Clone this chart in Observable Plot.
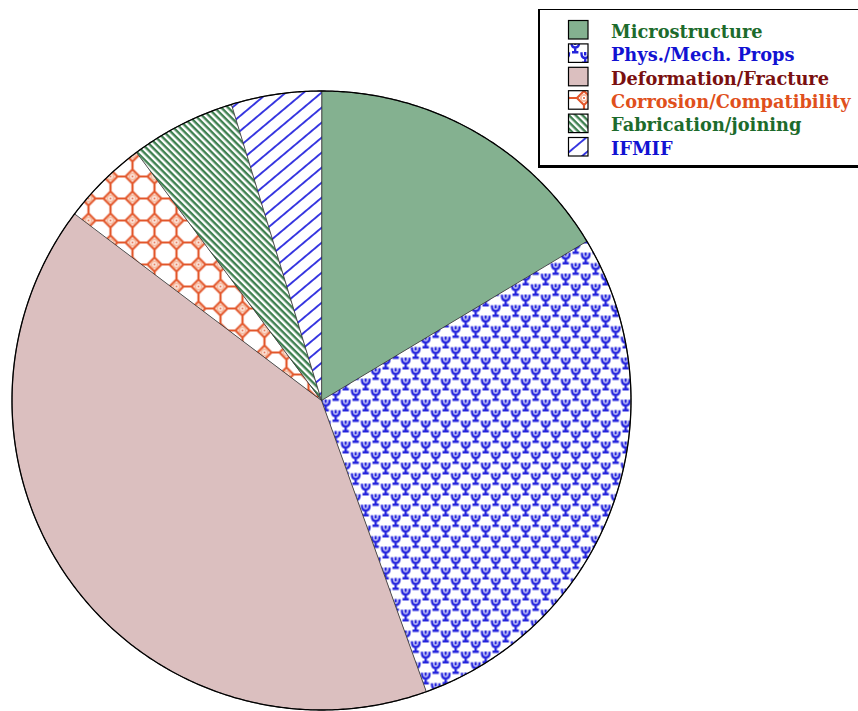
<!DOCTYPE html>
<html><head><meta charset="utf-8">
<script src="https://cdn.jsdelivr.net/npm/d3@7"></script>
<script src="https://cdn.jsdelivr.net/npm/@observablehq/plot@0.6"></script>
<style>
html,body{margin:0;padding:0;background:#fff;overflow:hidden}
body{width:858px;height:711px;position:relative;overflow:hidden}
#chart{position:absolute;left:0;top:0}
#legend{position:absolute;left:538px;top:9px;width:360px;height:155px;border-style:solid;border-color:#000;border-width:1.5px 0 3px 2px;background:#fff;}
#legend svg{display:block}
</style></head><body>
<svg width="0" height="0" style="position:absolute">
 <defs>
  <pattern id="pat-phys" patternUnits="userSpaceOnUse" width="20" height="21">
   <rect width="20" height="21" fill="#fff"/>
   <g id="psi" fill="none" stroke="#2424dc" stroke-width="2.4" stroke-linecap="square">
    <path d="M1.5,1.5 Q1.5,6 5.2,6 Q9,6 9,1.5 M5.2,1.2 V2.2 M5.2,6 V10.5 M3.2,10.8 H7.2"/>
   </g>
   <use href="#psi" x="10" y="10.5"/>
   <use href="#psi" x="10" y="-10.5"/>
   <use href="#psi" x="-10" y="10.5"/>
  </pattern>
  <pattern id="pat-corr" patternUnits="userSpaceOnUse" width="22" height="22">
   <rect width="22" height="22" fill="#fff"/>
   <path d="M7,0 L15,0 L22,7 L22,15 L15,22 L7,22 L0,15 L0,7 Z" fill="none" stroke="#e2562a" stroke-width="2.2"/>
   <g fill="#f6b89c"><circle cx="0" cy="0" r="4"/><circle cx="22" cy="0" r="4"/><circle cx="0" cy="22" r="4"/><circle cx="22" cy="22" r="4"/></g>
   <g fill="#fff"><circle cx="0" cy="0" r="2.2"/><circle cx="22" cy="0" r="2.2"/><circle cx="0" cy="22" r="2.2"/><circle cx="22" cy="22" r="2.2"/></g>
   <g fill="#e2562a"><circle cx="0" cy="0" r="1"/><circle cx="22" cy="0" r="1"/><circle cx="0" cy="22" r="1"/><circle cx="22" cy="22" r="1"/></g>
  </pattern>
  <pattern id="pat-fab" patternUnits="userSpaceOnUse" width="10" height="4.8" patternTransform="rotate(45)">
   <rect width="10" height="4.8" fill="#fff"/>
   <rect y="0" width="10" height="2.4" fill="#3f8050"/>
  </pattern>
  <pattern id="pat-ifmif" patternUnits="userSpaceOnUse" width="10" height="11.5" patternTransform="rotate(-40)">
   <rect width="10" height="11.5" fill="#fff"/>
   <rect y="0" width="10" height="1.9" fill="#3535e0"/>
  </pattern>
 </defs>
</svg>
<div id="chart"></div>
<div id="legend"></div>
<script>
const categories = ["Microstructure", "Phys./Mech. Props", "Deformation/Fracture", "Corrosion/Compatibility", "Fabrication/joining", "IFMIF"];
const shares = [16.4, 28.1, 40.8, 4.5, 5.5, 4.7];
const fills = ["#84b190", "url(#pat-phys)", "#dbbfbf", "url(#pat-corr)", "url(#pat-fab)", "url(#pat-ifmif)"];
const labelColors = ["#1d6b2c", "#1212d2", "#7a1010", "#e0501c", "#1d6b2c", "#1212d2"];

// slice geometry (unit radius, angles clockwise from 12 o'clock)
const arcs = d3.pie().sort(null).value(d => d)(shares);
function arcPoints(a0, a1) {
  const n = Math.max(2, Math.ceil((a1 - a0) / (Math.PI / 360)));
  return d3.range(n + 1).map(k => {
    const a = a0 + (a1 - a0) * k / n;
    return [Math.sin(a), Math.cos(a)];
  });
}
const slices = arcs.map((a, i) => ({
  type: "Feature",
  properties: {category: categories[i]},
  geometry: {type: "Polygon", coordinates: [[[0, 0], ...arcPoints(a.startAngle, a.endAngle), [0, 0]]]}
}));
const disc = {type: "Feature", properties: {}, geometry: {type: "Polygon", coordinates: [arcPoints(0, 2 * Math.PI)]}};

const chart = Plot.plot({
  width: 858,
  height: 711,
  marginLeft: 11.5,
  marginRight: 227.5,
  marginTop: 90.5,
  marginBottom: 1.5,
  projection: {type: "reflect-y", domain: disc},
  color: {domain: categories, range: fills},
  marks: [
    Plot.geo(slices, {fill: d => d.properties.category, stroke: "#333", strokeWidth: 0.8}),
    Plot.geo([disc], {fill: "none", stroke: "#000", strokeWidth: 1.3})
  ]
});
document.getElementById("chart").appendChild(chart);

// legend
const lg = d3.select("#legend").append("svg").attr("width", 360).attr("height", 155);
const rowStep = 23.4;
categories.forEach((c, i) => {
  lg.append("rect").attr("x", 28.5).attr("y", 10.5 + i * rowStep).attr("width", 19.5).attr("height", 18.5)
    .attr("fill", fills[i]).attr("stroke", "#000").attr("stroke-width", 1.2);
  lg.append("text").attr("x", 71).attr("y", 27.8 + i * rowStep).text(c)
    .attr("fill", labelColors[i]).attr("font-family", "DejaVu Serif, serif").attr("font-weight", "bold").attr("font-size", 17.8);
});
</script>
</body></html>
